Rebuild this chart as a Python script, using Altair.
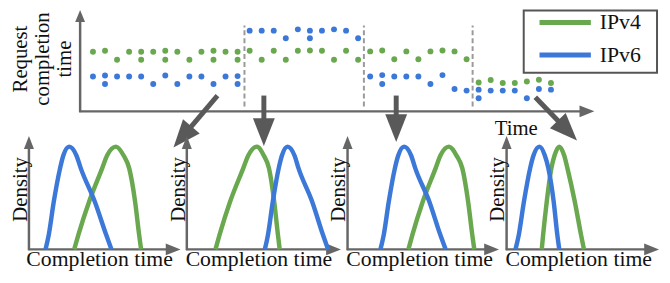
import math
import altair as alt
import pandas as pd

# ---------------- data ----------------
SERIES = ["IPv4", "IPv6"]

# top panel: request completion time per request (time index, completion time)
IPV4_T = [0, 1, 2, 3, 4, 4, 5, 6, 6, 7, 8, 9, 10, 10, 11, 12, 12,
          13, 14, 15, 16, 17, 18, 19, 20, 21, 22,
          23, 24, 25, 26, 27, 28, 29, 30, 31,
          32, 33, 34, 35, 36, 37, 38]
IPV4_V = [60.3, 61.3, 52.3, 60.3, 60.3, 52.3, 60.3, 61.3, 52.3, 60.3, 52.3, 60.3, 61.3, 52.3, 60.3, 60.3, 52.3,
          61.3, 52.3, 61.3, 52.3, 61.3, 61.7, 61.3, 52.3, 61.3, 52.3,
          60.7, 61.7, 52.7, 60.7, 52.7, 60.7, 61.7, 60.7, 52.7,
          29.3, 31.7, 28.7, 28.7, 30.3, 32.0, 28.7]
IPV6_T = [0, 1, 1, 2, 3, 4, 5, 6, 7, 8, 9, 10, 11, 12, 12,
          13, 14, 15, 16, 17, 18, 18, 19, 20, 21, 22,
          23, 24, 24, 25, 26, 27, 28, 29, 30, 31,
          32, 32, 33, 34, 35, 36, 37, 38]
IPV6_V = [35.3, 36.3, 27.7, 35.3, 35.3, 35.3, 27.7, 36.3, 27.7, 35.3, 35.3, 27.7, 35.3, 35.7, 27.7,
          81.7, 81.7, 81.7, 74.0, 83.0, 81.7, 74.0, 81.7, 83.0, 81.7, 74.0,
          35.3, 36.7, 27.7, 35.3, 35.3, 35.3, 27.7, 36.7, 22.7, 21.0,
          22.0, 13.3, 21.0, 21.0, 21.0, 13.3, 22.7, 22.0]
SEGMENT_BREAKS = [12.57, 22.48, 31.5]

# bottom panels: density curves (completion time, density)
DENSITY_LEVELS = [0, 15, 48, 82, 95, 104, 95, 82, 48, 15, 0]
P1_IPV6_X = [24.3, 27.6, 32.6, 39.0, 42.3, 48.3, 55.6, 60.0, 74.3, 85.6, 91.0]
P1_IPV4_X = [53.3, 57.6, 68.3, 81.6, 86.6, 95.6, 103.3, 109.0, 115.0, 119.0, 121.0]
P2_IPV4_X = [29.0, 33.2, 43.7, 57.1, 62.2, 71.0, 77.9, 83.2, 88.5, 92.2, 94.0]
P2_IPV6_X = [79.0, 82.2, 87.0, 93.0, 96.3, 102.0, 109.0, 113.1, 127.0, 137.7, 143.0]
P3_IPV6_X = [33.3, 36.7, 41.7, 47.9, 51.3, 57.3, 64.4, 68.6, 82.9, 93.8, 99.3]
P3_IPV4_X = [61.6, 65.7, 76.0, 89.1, 94.0, 102.6, 110.3, 116.2, 122.1, 126.2, 128.3]
P4_IPV6_X = [9.0, 12.4, 17.5, 23.8, 27.2, 33.3, 38.7, 42.3, 47.7, 51.3, 53.3]
P4_IPV4_X = [35.6, 37.0, 40.6, 45.3, 48.5, 53.3, 58.3, 61.6, 69.1, 75.3, 78.3]
PANEL_CURVES = [(P1_IPV4_X, P1_IPV6_X), (P2_IPV4_X, P2_IPV6_X),
                (P3_IPV4_X, P3_IPV6_X), (P4_IPV4_X, P4_IPV6_X)]

Y_TITLE_LINES = ["Request", "completion", "time"]
X_TITLE_TOP = "Time"
X_TITLE_PANEL = "Completion time"
Y_TITLE_PANEL = "Density"

# ---------------- style / layout ----------------
GREEN = "#6AA84F"
BLUE = "#3C78D8"
AXIS = "#666666"
ARROW = "#595959"
FONT = "Liberation Serif"
TXT = "#111111"
OFF = 8
W, H = 654, 267


def sc(domain, rng):
    return alt.Scale(domain=domain, range=rng, nice=False, zero=False)


TOPX = sc([0, 38], [94 - OFF, 557.6 - OFF])
TOPY = sc([0, 100], [111 - OFF, 11 - OFF])
TSX, TSY = 12.2, 1.0
PANEL_X0 = [21.7, 189.0, 351.7, 512.7]
PANEL_AXIS_START = [7.5, 0.0, 0.0, 0.0]
PANEL_TIP = [161.0, 156.0, 153.3, 154.3]
PANEL_XTITLE = [79, 73, 73, 73]
BASE = 250.7


def PX(p):
    x0 = PANEL_X0[p]
    return sc([0, 100], [x0 - OFF, x0 + 100 - OFF])


PY = sc([0, 100], [BASE - OFF, BASE - 100 - OFF])

color = alt.Color("proto:N", scale=alt.Scale(domain=SERIES, range=[GREEN, BLUE]), legend=None)


def arrow_geom(x0, y0, x1, y1, sx, sy, L, frac):
    dx = (x1 - x0) * sx
    dy = -(y1 - y0) * sy
    n = math.hypot(dx, dy)
    ux, uy = dx / n, dy / n
    cx = x1 - (L / 2 * ux) / sx
    cy = y1 + (L / 2 * uy) / sy
    ex = x1 - (L * frac * ux) / sx
    ey = y1 + (L * frac * uy) / sy
    ang = math.degrees(math.atan2(ux, -uy)) % 360
    return ex, ey, cx, cy, ang


def arrows(specs, xs, ys, sx, sy, L, ratio, frac, width, col, cap="butt"):
    shafts, heads = [], []
    for (x0, y0, x1, y1) in specs:
        ex, ey, cx, cy, ang = arrow_geom(x0, y0, x1, y1, sx, sy, L, frac)
        shafts.append({"a": x0, "b": y0, "c": ex, "d": ey})
        heads.append({"a": cx, "b": cy, "ang": ang})
    path = f"M0,-1L{ratio},1L-{ratio},1Z"
    s = alt.Chart(pd.DataFrame(shafts)).mark_rule(color=col, strokeWidth=width, strokeCap=cap).encode(
        x=alt.X("a:Q", scale=xs, axis=None), y=alt.Y("b:Q", scale=ys, axis=None),
        x2="c:Q", y2="d:Q")
    h = alt.Chart(pd.DataFrame(heads)).mark_point(shape=path, filled=True, size=L * L, color=col,
                                                  opacity=1, strokeWidth=0).encode(
        x=alt.X("a:Q", scale=xs, axis=None), y=alt.Y("b:Q", scale=ys, axis=None),
        angle=alt.Angle("ang:Q", scale=None))
    return [s, h]


def text_layer(rows, xs, ys, **kw):
    return alt.Chart(pd.DataFrame(rows)).mark_text(font=FONT, color=TXT, **kw).encode(
        x=alt.X("a:Q", scale=xs, axis=None), y=alt.Y("b:Q", scale=ys, axis=None),
        text="label:N")


layers = []

# ---- top panel ----
seps = pd.DataFrame({"t": SEGMENT_BREAKS, "v0": [5] * 3, "v1": [87] * 3})
layers.append(alt.Chart(seps).mark_rule(color="#9a9a9a", strokeWidth=2, strokeDash=[5, 3]).encode(
    x=alt.X("t:Q", scale=TOPX, axis=None), y=alt.Y("v0:Q", scale=TOPY, axis=None), y2="v1:Q"))

dots = pd.DataFrame({"t": IPV4_T + IPV6_T, "v": IPV4_V + IPV6_V,
                     "proto": ["IPv4"] * len(IPV4_T) + ["IPv6"] * len(IPV6_T)})
layers.append(alt.Chart(dots).mark_circle(size=36, opacity=1).encode(
    x=alt.X("t:Q", scale=TOPX, axis=None), y=alt.Y("v:Q", scale=TOPY, axis=None), color=color))

t_org = (81 - 94) / TSX
layers += arrows([(t_org, -0.8, t_org, 102.5)], TOPX, TOPY, TSX, TSY, 12, 0.83, 0.5, 2.5, AXIS)
layers += arrows([(t_org - 0.08, 0, 41.6, 0)], TOPX, TOPY, TSX, TSY, 15, 0.8, 0.5, 2.5, AXIS)

layers.append(text_layer([{"a": (x - 94) / TSX, "b": 53, "label": l}
                          for x, l in zip([27.5, 50.0, 72.0], Y_TITLE_LINES)],
                         TOPX, TOPY, fontSize=21, angle=270, align="center", baseline="alphabetic"))
layers.append(text_layer([{"a": 35.12, "b": -24, "label": X_TITLE_TOP}], TOPX, TOPY,
                         fontSize=21, align="center", baseline="alphabetic"))

# legend
box = pd.DataFrame({"a": [35.74], "c": [46.8], "b": [102], "d": [39]})
layers.append(alt.Chart(box).mark_rect(fill="white", stroke="#555555", strokeWidth=2).encode(
    x=alt.X("a:Q", scale=TOPX, axis=None), x2="c:Q",
    y=alt.Y("b:Q", scale=TOPY, axis=None), y2="d:Q"))
leg = pd.DataFrame({"a": [37.05, 37.05], "c": [41.31, 41.31], "b": [90, 57], "proto": SERIES})
layers.append(alt.Chart(leg).mark_rule(strokeWidth=5).encode(
    x=alt.X("a:Q", scale=TOPX, axis=None), x2="c:Q",
    y=alt.Y("b:Q", scale=TOPY, axis=None), color=color))
layers.append(text_layer([{"a": 42.05, "b": 90, "label": SERIES[0]}, {"a": 42.05, "b": 57, "label": SERIES[1]}],
                         TOPX, TOPY, fontSize=22, align="left", baseline="middle"))

# big arrows from top to bottom panels
big = [(10.33, 16, 6.68, -36.5), (14.18, 16, 14.18, -35), (25.16, 16, 25.16, -31), (36.7, 14.3, 40.16, -29.5)]
layers += arrows(big, TOPX, TOPY, TSX, TSY, 28, 0.79, 0.8, 5, ARROW)

# ---- bottom panels ----
for p, (xv4, xv6) in enumerate(PANEL_CURVES):
    xs = PX(p)
    a0 = PANEL_AXIS_START[p]
    layers += arrows([(a0, -0.8, a0, 114.7)], xs, PY, 1, 1, 13, 0.78, 0.5, 2.5, AXIS)
    layers += arrows([(a0 - 0.8, 0, PANEL_TIP[p], 0)], xs, PY, 1, 1, 15, 0.8, 0.5, 2.5, AXIS)
    cur = pd.DataFrame({"x": xv4 + xv6, "y": DENSITY_LEVELS * 2,
                        "proto": ["IPv4"] * len(xv4) + ["IPv6"] * len(xv6)})
    layers.append(alt.Chart(cur).mark_line(interpolate="monotone", strokeWidth=4.5, strokeCap="butt").encode(
        x=alt.X("x:Q", scale=xs, axis=None), y=alt.Y("y:Q", scale=PY, axis=None), color=color,
        detail="proto:N"))
    layers.append(text_layer([{"a": PANEL_XTITLE[p], "b": -17.3, "label": X_TITLE_PANEL}], xs, PY,
                             fontSize=22, align="center", baseline="alphabetic"))
    layers.append(text_layer([{"a": a0 - 2.3, "b": 60.7, "label": Y_TITLE_PANEL}], xs, PY,
                             fontSize=21, angle=270, align="center", baseline="alphabetic"))

chart = alt.layer(*layers).resolve_scale(x="independent", y="independent").properties(
    width=W, height=H, autosize=alt.AutoSizeParams(type="none"),
    padding={"left": 0, "top": 0, "right": 8, "bottom": 0},
).configure_view(stroke=None)

chart.save("out.html", embed_options={"renderer": "svg", "actions": False})
